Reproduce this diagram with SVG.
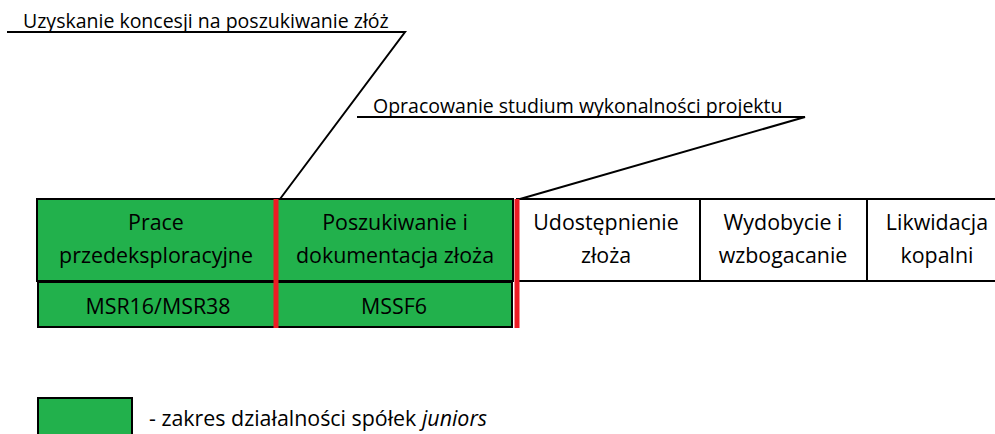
<svg xmlns="http://www.w3.org/2000/svg" width="995" height="434" viewBox="0 0 995 434">
<style>
.t{font-family:"Open Sans","DejaVu Sans",sans-serif;fill:#000;text-anchor:middle;font-size:21.4px}
.c{font-family:"Open Sans","DejaVu Sans",sans-serif;fill:#000;font-size:19.5px}
.g{fill:#22b14c;stroke:#000;stroke-width:2}
.w{fill:#fff;stroke:#000;stroke-width:2}
.r{stroke:#ed1c24;stroke-width:5}
.l{fill:none;stroke:#000;stroke-width:2}
</style>
<rect width="995" height="434" fill="#fff"/>
<g id="connectors">
<polyline class="l" points="7,32 405,32 280,199"/>
<polyline class="l" points="357,117 805,117 520,199"/>
</g>
<g id="callout1"><text class="c" x="23" y="28">Uzyskanie koncesji na poszukiwanie złóż</text></g>
<g id="callout2"><text class="c" x="373" y="113">Opracowanie studium wykonalności projektu</text></g>
<g id="n1">
<rect class="g" x="37" y="199" width="240" height="82"/>
<text class="t" x="156" y="230">Prace</text>
<text class="t" x="156" y="263">przedeksploracyjne</text>
</g>
<g id="n2">
<rect class="g" x="277" y="199" width="236" height="82"/>
<text class="t" x="395" y="230">Poszukiwanie i</text>
<text class="t" x="395" y="263">dokumentacja złoża</text>
</g>
<g id="n3">
<rect class="w" x="517" y="199" width="183" height="82"/>
<text class="t" x="606" y="230">Udostępnienie</text>
<text class="t" x="606" y="263">złoża</text>
</g>
<g id="n4">
<rect class="w" x="700" y="199" width="167" height="82"/>
<text class="t" x="783" y="230">Wydobycie i</text>
<text class="t" x="783" y="263">wzbogacanie</text>
</g>
<g id="n5">
<rect class="w" x="867" y="199" width="130" height="82"/>
<text class="t" x="937" y="230">Likwidacja</text>
<text class="t" x="937" y="263">kopalni</text>
</g>
<g id="n6">
<rect class="g" x="38" y="282" width="239" height="45"/>
<text class="t" x="158" y="314">MSR16/MSR38</text>
</g>
<g id="n7">
<rect class="g" x="277" y="282" width="235" height="45"/>
<text class="t" x="394" y="314">MSSF6</text>
</g>
<g id="dividers">
<line class="r" x1="276" y1="199" x2="276" y2="328"/>
<line class="r" x1="517" y1="199" x2="517" y2="328"/>
</g>
<g id="legend">
<rect class="g" x="38" y="398" width="94" height="40"/>
<text class="t" x="149" y="426" style="text-anchor:start">- zakres działalności spółek <tspan font-style="italic">juniors</tspan></text>
</g>
</svg>
